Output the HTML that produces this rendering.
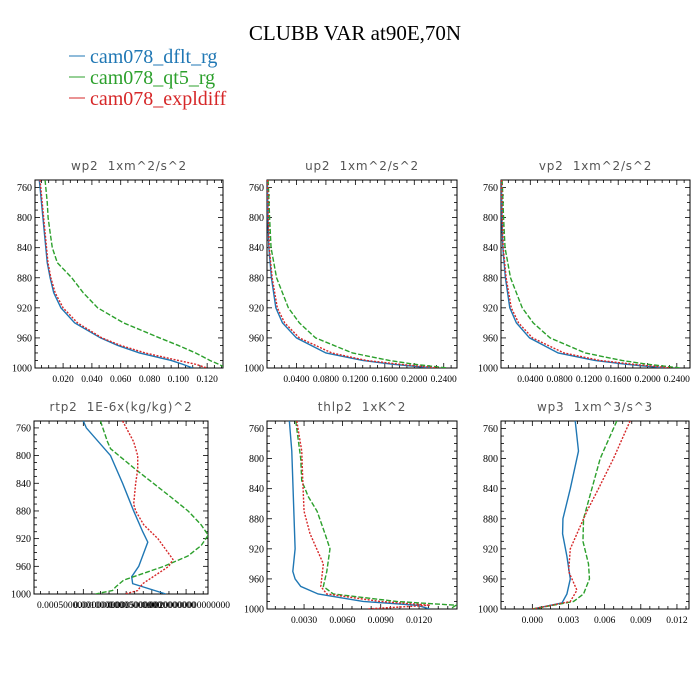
<!DOCTYPE html>
<html><head><meta charset="utf-8"><style>
html,body{margin:0;padding:0;background:#fff;}
svg{display:block;}
</style></head><body>
<svg id="chart" width="700" height="700" xmlns="http://www.w3.org/2000/svg">
<text x="355" y="40" text-anchor="middle" font-family="Liberation Serif, serif" font-size="21">CLUBB VAR at90E,70N</text>
<g font-family="Liberation Serif, serif" font-size="20">
<g><line x1="69" y1="56" x2="85" y2="56" stroke="#1f77b4" stroke-width="1"/><text x="90" y="63" fill="#1f77b4">cam078_dflt_rg</text></g>
<g><line x1="69" y1="77" x2="85" y2="77" stroke="#2ca02c" stroke-width="1"/><text x="90" y="84" fill="#2ca02c">cam078_qt5_rg</text></g>
<g><line x1="69" y1="98" x2="85" y2="98" stroke="#d62728" stroke-width="1"/><text x="90" y="105" fill="#d62728">cam078_expldiff</text></g>
</g>
</svg>
<script>
// ---- data ----
const wp2P=[750,760,780,800,820,840,860,880,900,920,940,960,970,980,990,995,1000];
const wp2Blue=[0.0035,0.004,0.005,0.006,0.007,0.008,0.009,0.011,0.0135,0.0185,0.028,0.046,0.058,0.073,0.095,0.103,0.110];
const wp2Red=[0.004,0.0045,0.0055,0.0065,0.0075,0.0085,0.0095,0.0115,0.0145,0.020,0.030,0.047,0.060,0.077,0.100,0.112,0.120];
const wp2Green=[0.0075,0.008,0.009,0.0096,0.011,0.0125,0.016,0.026,0.034,0.044,0.062,0.087,0.100,0.112,0.122,0.128,0.133];
const wp2Ticks=[0.02,0.04,0.06,0.08,0.10,0.12];
const wp2Labels=["0.020","0.040","0.060","0.080","0.100","0.120"];

const uvP=[750,760,800,840,880,920,940,960,980,990,995,1000];
const up2Blue=[0.0005,0.0007,0.0012,0.0025,0.006,0.012,0.021,0.040,0.08,0.13,0.17,0.225];
const up2Red=[0.0008,0.001,0.0017,0.003,0.007,0.014,0.024,0.044,0.088,0.135,0.18,0.232];
const up2Green=[0.0015,0.002,0.0035,0.0055,0.013,0.029,0.044,0.066,0.116,0.166,0.2,0.245];
const vp2Blue=[0.0005,0.0007,0.0012,0.0025,0.006,0.012,0.021,0.039,0.078,0.128,0.17,0.225];
const vp2Red=[0.0008,0.001,0.0017,0.003,0.007,0.014,0.024,0.043,0.086,0.135,0.18,0.232];
const vp2Green=[0.0015,0.002,0.0035,0.0055,0.013,0.029,0.044,0.067,0.115,0.165,0.2,0.245];
const uvTicks=[0.04,0.08,0.12,0.16,0.20,0.24];
const uvLabels=["0.0400","0.0800","0.1200","0.1600","0.2000","0.2400"];

const rtBlueP=[750,760,800,840,880,910,925,960,975,985,1000];
const rtBlue=[0.0005,0.000544,0.000897,0.001073,0.001235,0.001367,0.001441,0.001309,0.001206,0.00122,0.001705];
const rtGreenP=[750,780,790,820,860,880,900,915,930,945,960,980,990,995,1000];
const rtGreen=[0.00075,0.000853,0.000897,0.001264,0.001779,0.002029,0.00222,0.002323,0.00222,0.002029,0.001676,0.001088,0.00097,0.000926,0.000676];
const rtRedP=[750,780,800,820,840,870,880,900,920,950,960,985,995,1000];
const rtRed=[0.001073,0.001235,0.001294,0.001294,0.001264,0.001235,0.001264,0.001382,0.001588,0.001808,0.001749,0.001367,0.001294,0.001103];
const rtTicks=[0.0005,0.0010,0.0015,0.0020];
const rtLabels=["0.000500000000000000","0.00100000000000000","0.00150000000000000","0.00200000000000000"];

const thBlueP=[750,790,800,920,950,960,970,980,990,995,1000];
const thBlue=[0.00185,0.00204,0.00206,0.0023,0.00212,0.0023,0.00274,0.0041,0.00762,0.01182,0.01286];
const thGreenP=[750,800,830,840,850,870,900,920,950,970,980,990,995,1000];
const thGreen=[0.00235,0.00274,0.00282,0.00308,0.00331,0.00402,0.00464,0.00503,0.00478,0.00451,0.00529,0.01025,0.0149,0.01443];
const thRedP=[750,790,830,870,900,920,940,970,980,990,995,1000];
const thRed=[0.00243,0.00282,0.0029,0.003,0.00347,0.00399,0.00451,0.00431,0.00478,0.00895,0.01286,0.00791];
const thTicks=[0.003,0.006,0.009,0.012];
const thLabels=["0.0030","0.0060","0.0090","0.0120"];

const w3BlueP=[750,790,840,880,900,930,960,980,992,1000];
const w3Blue=[0.00356,0.00383,0.00315,0.00254,0.00251,0.00287,0.00315,0.00287,0.00246,0];
const w3GreenP=[750,790,800,840,880,910,940,960,980,990,1000];
const w3Green=[0.00701,0.0059,0.00563,0.00494,0.00425,0.0042,0.00466,0.00474,0.00425,0.00342,0];
const w3RedP=[750,800,840,870,900,920,950,975,990,1000];
const w3Red=[0.00811,0.00673,0.00549,0.00453,0.0037,0.00315,0.00301,0.0037,0.00315,0];
const w3Ticks=[0,0.003,0.006,0.009,0.012];
const w3Labels=["0.000","0.003","0.006","0.009","0.012"];

const pTicks=[760,800,840,880,920,960,1000];
const pLabels=["760","800","840","880","920","960","1000"];

const NS="http://www.w3.org/2000/svg";
const svg=document.getElementById('chart');
function mk(tag,attrs,parent){const e=document.createElementNS(NS,tag);for(const k in attrs)e.setAttribute(k,attrs[k]);parent.appendChild(e);return e;}

function panel(o){
  const g=mk('g',{},svg);
  
  
  const xs=v=>o.x0+(v-o.xmin)/(o.xmax-o.xmin)*(o.x1-o.x0);
  const ys=p=>o.y0+(p-750)/(1000-750)*(o.y1-o.y0);
  const t=mk('text',{x:(o.x0+o.x1)/2,y:o.y0-10,'text-anchor':'middle','font-family':'DejaVu Sans, sans-serif','font-size':'12','fill':'#555','letter-spacing':'0.8',style:'white-space:pre'},g);
  t.textContent=o.title;
  
  
  const tk=mk('g',{stroke:'#000','stroke-width':'0.8'},g);
  
  
  for(let p=750;p<=1000;p+=10){const y=ys(p);const L=(p%40===0)?5:3;
    mk('line',{x1:o.x0,y1:y,x2:o.x0+L,y2:y},tk);mk('line',{x1:o.x1,y1:y,x2:o.x1-L,y2:y},tk);}
  const step=o.ticks[1]-o.ticks[0];const ms=step/4;
  for(let v=o.ticks[0]-Math.floor((o.ticks[0]-o.xmin)/ms)*ms; v<=o.xmax+1e-12; v+=ms){
    const x=xs(v); if(x<o.x0-0.1||x>o.x1+0.1) continue;
    const maj=o.ticks.some(q=>Math.abs(q-v)<ms*0.1);const L=maj?5:3;
    mk('line',{x1:x,y1:o.y1,x2:x,y2:o.y1-L},tk);mk('line',{x1:x,y1:o.y0,x2:x,y2:o.y0+L},tk);}
  mk('rect',{x:o.x0,y:o.y0,width:o.x1-o.x0,height:o.y1-o.y0,fill:'none',stroke:'#000','stroke-width':'1'},g);
  const yl=mk('g',{'font-family':'Liberation Serif, serif','font-size':'10','text-anchor':'end'},g);
  
  
  pTicks.forEach((p,i)=>{const e=mk('text',{x:o.x0-3,y:ys(p)+3.5},yl);e.textContent=pLabels[i];});
  const xl=mk('g',{'font-family':'Liberation Serif, serif','font-size':'9.5','text-anchor':'middle'},g);
  
  
  o.ticks.forEach((v,i)=>{const e=mk('text',{x:xs(v),y:o.y1+14},xl);e.textContent=o.labels[i];});
  const defs=[[o.blueP,o.blue,'#1f77b4',null,'blue'],[o.greenP,o.green,'#2ca02c','5,2','green'],[o.redP,o.red,'#d62728','2,1.5','red']];
  const clipId='clip-'+o.name;
  const cp=mk('clipPath',{id:clipId},g);mk('rect',{x:o.x0,y:o.y0,width:o.x1-o.x0,height:o.y1-o.y0},cp);
  defs.forEach(d=>{
    const pts=d[0].map((p,i)=>xs(d[1][i]).toFixed(2)+','+ys(p).toFixed(2)).join(' ');
    const a={points:pts,fill:'none',stroke:d[2],'stroke-width':'1.4','clip-path':'url(#'+clipId+')'};
    if(d[3])a['stroke-dasharray']=d[3];
    const pl=mk('polyline',a,g);
    
    
  });
}

panel({name:'wp2',title:'wp2  1xm^2/s^2',x0:35,x1:223,y0:180,y1:368,xmin:0.0005,xmax:0.131,ticks:wp2Ticks,labels:wp2Labels,
  blueP:wp2P,blue:wp2Blue,greenP:wp2P,green:wp2Green,redP:wp2P,red:wp2Red});
panel({name:'up2',title:'up2  1xm^2/s^2',x0:267,x1:457,y0:180,y1:368,xmin:0,xmax:0.258,ticks:uvTicks,labels:uvLabels,
  blueP:uvP,blue:up2Blue,greenP:uvP,green:up2Green,redP:uvP,red:up2Red});
panel({name:'vp2',title:'vp2  1xm^2/s^2',x0:501,x1:690,y0:180,y1:368,xmin:0,xmax:0.258,ticks:uvTicks,labels:uvLabels,
  blueP:uvP,blue:vp2Blue,greenP:uvP,green:vp2Green,redP:uvP,red:vp2Red});
panel({name:'rtp2',title:'rtp2  1E-6x(kg/kg)^2',x0:34,x1:208,y0:421,y1:594,xmin:-0.00022,xmax:0.00232,ticks:rtTicks,labels:rtLabels,
  blueP:rtBlueP,blue:rtBlue,greenP:rtGreenP,green:rtGreen,redP:rtRedP,red:rtRed});
panel({name:'thlp2',title:'thlp2  1xK^2',x0:267,x1:457,y0:421,y1:609,xmin:0.0001,xmax:0.01497,ticks:thTicks,labels:thLabels,
  blueP:thBlueP,blue:thBlue,greenP:thGreenP,green:thGreen,redP:thRedP,red:thRed});
panel({name:'wp3',title:'wp3  1xm^3/s^3',x0:501,x1:689,y0:421,y1:609,xmin:-0.0026,xmax:0.013,ticks:w3Ticks,labels:w3Labels,
  blueP:w3BlueP,blue:w3Blue,greenP:w3GreenP,green:w3Green,redP:w3RedP,red:w3Red});
</script>
</body></html>
